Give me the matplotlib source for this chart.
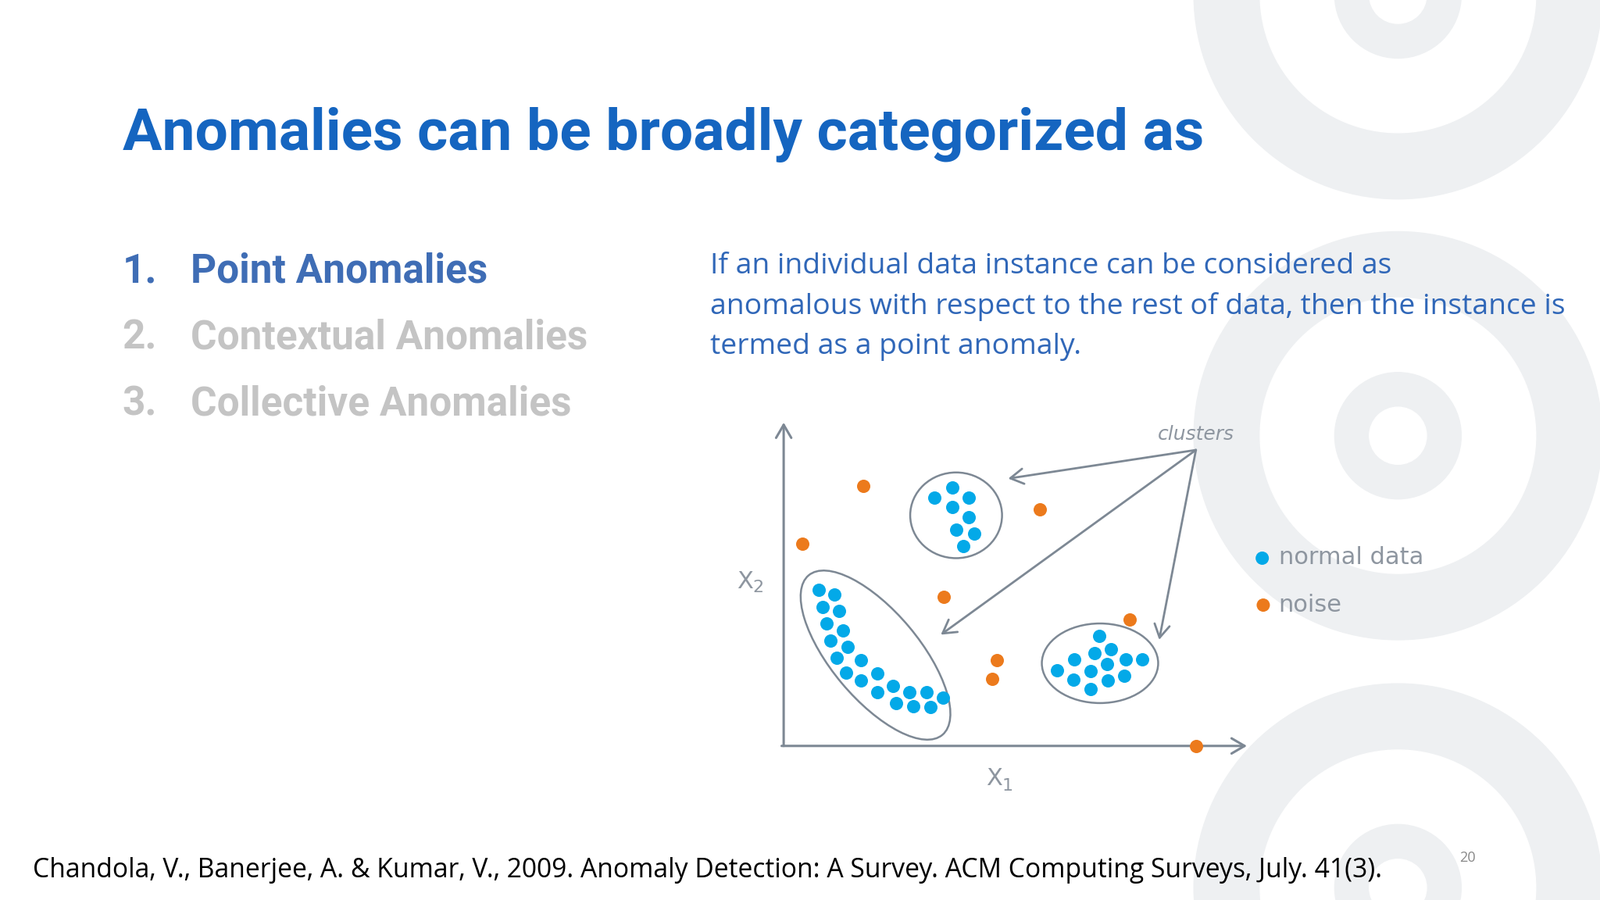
import matplotlib
matplotlib.use("Agg")
import matplotlib.pyplot as plt
from matplotlib.patches import Ellipse, Circle, FancyArrowPatch

# ---- data (slide pixel space, 1568x882) ----
cluster_a_x = [933, 916, 949, 933, 949, 937, 955, 944]
cluster_a_y = [478, 488, 488, 497, 507, 519, 523, 535]
cluster_b_x = [802, 818, 806, 822, 810, 826, 814, 831, 820, 844, 829, 860, 844, 875, 860, 891, 908, 924, 878, 895, 912]
cluster_b_y = [578, 583, 595, 599, 611, 618, 628, 634, 645, 647, 659, 660, 667, 672, 678, 678, 678, 684, 689, 692, 693]
cluster_c_x = [1077, 1089, 1053, 1073, 1085, 1103, 1119, 1036, 1069, 1052, 1086, 1102, 1069]
cluster_c_y = [623, 636, 646, 640, 651, 646, 646, 657, 658, 666, 667, 662, 675]
noise_x = [846, 1019, 786, 925, 1107, 977, 972, 1172]
noise_y = [476, 499, 533, 585, 607, 647, 665, 731]
list_items = ["Point Anomalies", "Contextual Anomalies", "Collective Anomalies"]
legend_labels = ["normal data", "noise"]

BLUE = "#03a9e8"
ORANGE = "#ec7a1c"
GRAY = "#7d8894"
LIGHT = "#eef0f2"

fig = plt.figure(figsize=(20.48, 11.52), dpi=100)
ax = fig.add_axes([0, 0, 1, 1])
ax.set_xlim(0, 1568)
ax.set_ylim(882, 0)
ax.axis("off")

# background targets
for cy in [-5, 427, 870]:
    for r, c in [(200, LIGHT), (135, "white"), (62, LIGHT), (28, "white")]:
        ax.add_patch(Circle((1370, cy), r, color=c, zorder=0))

ax.text(120, 132, "Anomalies can be broadly categorized as", fontsize=54, fontweight="bold",
        color="#1565c0", family="Roboto", va="center", ha="left")
for i, item in enumerate(list_items):
    col = "#3f6db5" if i == 0 else "#c4c4c4"
    y = 266 + i * 65
    ax.text(120, y, f"{i+1}.", fontsize=37, fontweight="bold", color=col, family="Roboto", va="center")
    ax.text(187, y, item, fontsize=37, fontweight="bold", color=col, family="Roboto", va="center")

desc = ["If an individual data instance can be considered as",
        "anomalous with respect to the rest of data, then the instance is",
        "termed as a point anomaly."]
for i, line in enumerate(desc):
    ax.text(696, 261 + i * 39.5, line, fontsize=26.8, color="#3067b8", family="Open Sans", va="center")

ax.text(32, 853, "Chandola, V., Banerjee, A. & Kumar, V., 2009. Anomaly Detection: A Survey. ACM Computing Surveys, July. 41(3).",
        fontsize=24.2, color="black", family="Open Sans", va="center")
ax.text(1438, 841, "20", fontsize=13, color="#888888", family="Open Sans", va="center", ha="center")

def arrow(p0, p1, lw=2.2):
    ax.add_patch(FancyArrowPatch(p0, p1, arrowstyle="->,head_length=12,head_width=7",
                                 color=GRAY, lw=lw, zorder=3, shrinkA=0, shrinkB=0))
arrow((768, 731), (768, 414))
arrow((766, 731), (1222, 731))
for tgt in [(988, 469), (922, 622), (1136, 627)]:
    arrow((1172, 441), tgt, lw=2)

ax.add_patch(Ellipse((937, 505), 90, 84, fill=False, ec=GRAY, lw=1.8, zorder=2))
ax.add_patch(Ellipse((858, 642), 204, 86, angle=50, fill=False, ec=GRAY, lw=1.8, zorder=2))
ax.add_patch(Ellipse((1078, 650), 114, 78, fill=False, ec=GRAY, lw=1.8, zorder=2))

ms = 150
ax.scatter(cluster_a_x + cluster_b_x + cluster_c_x, cluster_a_y + cluster_b_y + cluster_c_y,
           s=ms, color=BLUE, zorder=4, linewidths=0)
ax.scatter(noise_x, noise_y, s=ms, color=ORANGE, zorder=4, linewidths=0)

tcol = "#8e96a0"
ax.text(1172, 426, "clusters", fontsize=18, style="italic", color=tcol, ha="center", va="center")
ax.text(730, 570, "X", fontsize=22, color=tcol, ha="center", va="center")
ax.text(743, 576, "2", fontsize=16, color=tcol, ha="center", va="center")
ax.text(974, 763, "X", fontsize=22, color=tcol, ha="center", va="center")
ax.text(987, 770, "1", fontsize=16, color=tcol, ha="center", va="center")

ax.scatter([1237, 1238], [547, 593], s=ms, color=[BLUE, ORANGE], zorder=4, linewidths=0)
for lab, y in zip(legend_labels, [546, 593]):
    ax.text(1253, y, lab, fontsize=22, color=tcol, va="center", ha="left")

fig.savefig("out.png", dpi=100)
